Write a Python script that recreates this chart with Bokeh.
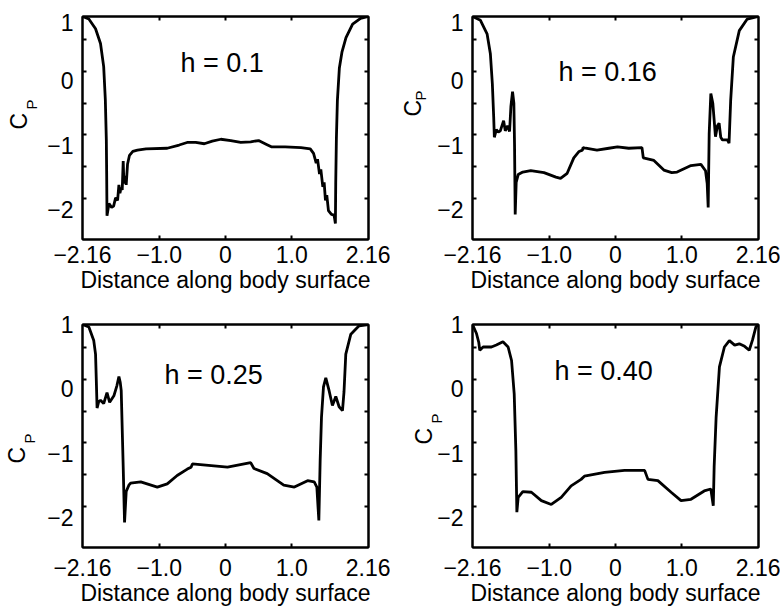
import math
from bokeh.plotting import figure
from bokeh.layouts import column, row
from bokeh.models import Range1d, FixedTicker, LinearAxis, Label, Title
from bokeh.embed import file_html
from bokeh.resources import INLINE

# ---------------- data ----------------
h_labels = ["h = 0.1", "h = 0.16", "h = 0.25", "h = 0.40"]

x_h010 = [-2.16, -2.064, -1.963, -1.888, -1.84, -1.815, -1.80, -1.795, -1.79, -1.76, -1.72, -1.69,
          -1.66, -1.63, -1.61, -1.595, -1.575, -1.56, -1.545, -1.535, -1.52, -1.50, -1.48, -1.45,
          -1.40, -1.33, -1.2, -0.88, -0.70, -0.58, -0.45, -0.32, -0.2, -0.07, 0.08, 0.23, 0.38,
          0.50, 0.62, 0.70, 0.9, 1.14, 1.28, 1.33, 1.37, 1.39, 1.42, 1.44, 1.47, 1.49, 1.51, 1.53,
          1.555, 1.60, 1.64, 1.66, 1.665, 1.675, 1.69, 1.72, 1.76, 1.82, 1.92, 2.04, 2.16]
y_h010 = [1.0, 0.96, 0.81, 0.58, 0.22, -0.30, -0.92, -1.44, -2.10, -1.91, -1.97, -1.95,
          -1.82, -1.86, -1.62, -1.75, -1.66, -1.70, -1.25, -1.60, -1.48, -1.62, -1.30, -1.16,
          -1.10, -1.08, -1.06, -1.05, -1.00, -0.96, -0.96, -0.98, -0.94, -0.91, -0.93, -0.96, -0.95,
          -0.93, -0.99, -1.03, -1.03, -1.04, -1.06, -1.13, -1.28, -1.22, -1.45, -1.38, -1.65, -1.58,
          -1.86, -1.78, -2.02, -2.08, -2.09, -2.22, -1.60, -0.90, -0.31, 0.20, 0.45, 0.67, 0.88,
          0.97, 1.0]

x_h016 = [-2.16, -2.04, -1.94, -1.89, -1.86, -1.84, -1.83, -1.80, -1.77, -1.74, -1.69, -1.665,
          -1.63, -1.60, -1.58, -1.555, -1.535, -1.525, -1.515, -1.50, -1.47, -1.40, -1.28, -1.08,
          -0.90, -0.83, -0.73, -0.63, -0.55, -0.50, -0.49, -0.45, -0.28, -0.1, 0.03, 0.2, 0.40,
          0.42, 0.5, 0.58, 0.73, 0.85, 0.93, 1.14, 1.29, 1.36, 1.385, 1.40, 1.415, 1.44, 1.47,
          1.51, 1.54, 1.565, 1.59, 1.615, 1.69, 1.715, 1.74, 1.78, 1.87, 1.99, 2.16]
y_h016 = [1.0, 0.94, 0.73, 0.42, -0.05, -0.56, -0.88, -0.76, -0.80, -0.78, -0.62, -0.78,
          -0.70, -0.79, -0.40, -0.17, -0.35, -1.00, -2.08, -1.58, -1.46, -1.42, -1.40, -1.43,
          -1.50, -1.52, -1.44, -1.20, -1.10, -1.08, -1.04, -1.05, -1.08, -1.05, -1.03, -1.05, -1.04,
          -1.20, -1.22, -1.24, -1.39, -1.43, -1.42, -1.32, -1.30, -1.40, -1.60, -1.97, -0.82, -0.20,
          -0.35, -0.87, -0.70, -0.66, -0.88, -0.92, -0.92, -0.97, -0.30, 0.37, 0.78, 0.96, 1.0]

x_h025 = [-2.16, -2.064, -1.99, -1.963, -1.95, -1.94, -1.915, -1.888, -1.84, -1.79, -1.75, -1.686,
          -1.64, -1.61, -1.59, -1.575, -1.545, -1.525, -1.50, -1.46, -1.434, -1.28, -1.03, -0.88,
          -0.73, -0.577, -0.52, -0.50, -0.38, 0.03, 0.38, 0.43, 0.63, 0.88, 1.04, 1.24, 1.34, 1.38,
          1.41, 1.43, 1.45, 1.48, 1.515, 1.565, 1.615, 1.666, 1.716, 1.767, 1.79, 1.817, 1.893,
          2.018, 2.16]
y_h025 = [1.0, 0.96, 0.75, 0.54, 0.08, -0.30, -0.20, -0.18, -0.23, -0.06, -0.21, -0.11,
          0.05, 0.19, 0.10, -0.03, -1.22, -2.08, -1.60, -1.50, -1.47, -1.45, -1.53, -1.48,
          -1.35, -1.25, -1.22, -1.17, -1.18, -1.22, -1.15, -1.24, -1.32, -1.50, -1.53, -1.43, -1.45,
          -1.53, -2.05, -1.11, -0.44, 0.03, 0.17, -0.03, -0.26, -0.12, -0.28, -0.34, -0.05, 0.54,
          0.85, 0.98, 1.0]

x_h040 = [-2.16, -2.10, -2.065, -2.05, -2.0, -1.874, -1.80, -1.70, -1.622, -1.57, -1.53, -1.505,
          -1.49, -1.47, -1.40, -1.27, -1.12, -0.97, -0.82, -0.67, -0.52, -0.47, -0.165, 0.136,
          0.44, 0.49, 0.64, 0.84, 0.99, 1.14, 1.34, 1.44, 1.477, 1.49, 1.52, 1.57, 1.645, 1.72,
          1.80, 1.87, 1.95, 2.02, 2.07, 2.12, 2.16]
y_h040 = [1.0, 0.86, 0.72, 0.60, 0.65, 0.65, 0.68, 0.73, 0.65, 0.44, -0.08, -0.96,
          -1.92, -1.69, -1.60, -1.61, -1.74, -1.80, -1.69, -1.51, -1.41, -1.36, -1.30, -1.27,
          -1.27, -1.41, -1.43, -1.61, -1.74, -1.72, -1.59, -1.56, -1.82, -1.22, -0.44, 0.34, 0.65,
          0.75, 0.68, 0.70, 0.66, 0.60, 0.76, 0.96, 1.0]

x_tick_values = [-2.16, -1.0, 0, 1.0, 2.16]
x_tick_labels = ["\u22122.16", "\u22121.0", "0", "1.0", "2.16"]
y_tick_labels = ["1", "0", "\u22121", "\u22122"]
y_tick_values_row1 = [0.9, 0, -1, -2]     # top label sits a little below the frame edge
y_tick_values_row2 = [1, 0, -1, -2]
y_minor_ticks = [0.64, 0.15, -0.35, -0.84, -1.33, -1.83]
x_inner_ticks = [-1.0, 0, 1.0]

FONT = "Liberation Sans"
FRAME_H = 223


def make_panel(xs, ys, label, label_pos, y_ticks, width, height, b_right, std, cp):
    p = figure(width=width, height=height, output_backend="svg", toolbar_location=None,
               x_range=Range1d(-2.16, 2.16), y_range=Range1d(-2.47, 1.0),
               x_axis_location=None, y_axis_location=None,
               min_border_left=82, min_border_right=b_right, min_border_top=16,
               min_border_bottom=height - 16 - FRAME_H)
    p.grid.visible = False
    p.outline_line_color = "black"
    p.outline_line_width = 2
    p.background_fill_color = "white"
    p.border_fill_color = "white"

    xb = LinearAxis(ticker=FixedTicker(ticks=x_tick_values, minor_ticks=x_inner_ticks),
                    major_label_overrides={v: t for v, t in zip(x_tick_values, x_tick_labels)},
                    axis_label="Distance along body surface")
    yl = LinearAxis(ticker=FixedTicker(ticks=y_ticks, minor_ticks=y_minor_ticks),
                    major_label_overrides={v: t for v, t in zip(y_ticks, y_tick_labels)})
    for ax in (xb, yl):
        ax.axis_line_color = "black"
        ax.axis_line_width = 2
        ax.major_tick_in = 0
        ax.major_tick_out = 0
        ax.minor_tick_in = 4
        ax.minor_tick_out = 0
        ax.minor_tick_line_width = 2
        ax.minor_tick_line_color = "black"
        ax.major_label_text_font = FONT
        ax.major_label_text_font_size = "23px"
        ax.major_label_text_color = "black"
        ax.axis_label_text_font = FONT
        ax.axis_label_text_font_size = "23px"
        ax.axis_label_text_font_style = "normal"
        ax.axis_label_text_color = "black"
    xb.major_label_standoff = std
    xb.axis_label_standoff = 1
    yl.major_label_standoff = 9
    p.add_layout(xb, "below")
    p.add_layout(yl, "left")

    # top / right: inward ticks only (no labels)
    xt = LinearAxis(ticker=FixedTicker(ticks=[], minor_ticks=x_inner_ticks))
    yr = LinearAxis(ticker=FixedTicker(ticks=[], minor_ticks=y_minor_ticks))
    for ax in (xt, yr):
        ax.axis_line_color = "black"
        ax.axis_line_width = 2
        ax.major_tick_in = 0
        ax.major_tick_out = 0
        ax.minor_tick_in = 4
        ax.minor_tick_out = 0
        ax.minor_tick_line_width = 2
        ax.minor_tick_line_color = "black"
        ax.major_label_standoff = 0
    p.add_layout(xt, "above")
    p.add_layout(yr, "right")

    # y-axis label C with subscript P, as two side titles
    p_std, p_off, c_std, c_off = cp
    p.add_layout(Title(text="P", align="left", offset=p_off, vertical_align="bottom",
                       standoff=p_std, text_font=FONT, text_font_size="15px",
                       text_font_style="normal", text_color="black"), "left")
    p.add_layout(Title(text="C", align="left", offset=c_off, vertical_align="bottom",
                       standoff=c_std, text_font=FONT, text_font_size="23px",
                       text_font_style="normal", text_color="black"), "left")

    p.line(xs, ys, line_color="black", line_width=2.8)
    p.add_layout(Label(x=label_pos[0], y=label_pos[1], text=label, text_font=FONT,
                       text_font_size="27px", text_color="black", text_align="center",
                       text_baseline="middle"))
    return p


p1 = make_panel(x_h010, y_h010, h_labels[0], (-0.05, 0.27), y_tick_values_row1, 390, 308, 22, 6,
                (9, 130, -30, 110))
p2 = make_panel(x_h016, y_h016, h_labels[1], (-0.12, 0.13), y_tick_values_row1, 390, 308, 22, 6,
                (11, 139, -43, 123))
p3 = make_panel(x_h025, y_h025, h_labels[2], (-0.18, 0.21), y_tick_values_row2, 390, 303, 22, 11,
                (13, 104, -34, 84))
p4 = make_panel(x_h040, y_h040, h_labels[3], (-0.18, 0.28), y_tick_values_row2, 390, 303, 22, 11,
                (-21, 124, -4, 103))

layout = column(row(p1, p2), row(p3, p4))
open("out.html", "w").write(file_html(layout, INLINE))
